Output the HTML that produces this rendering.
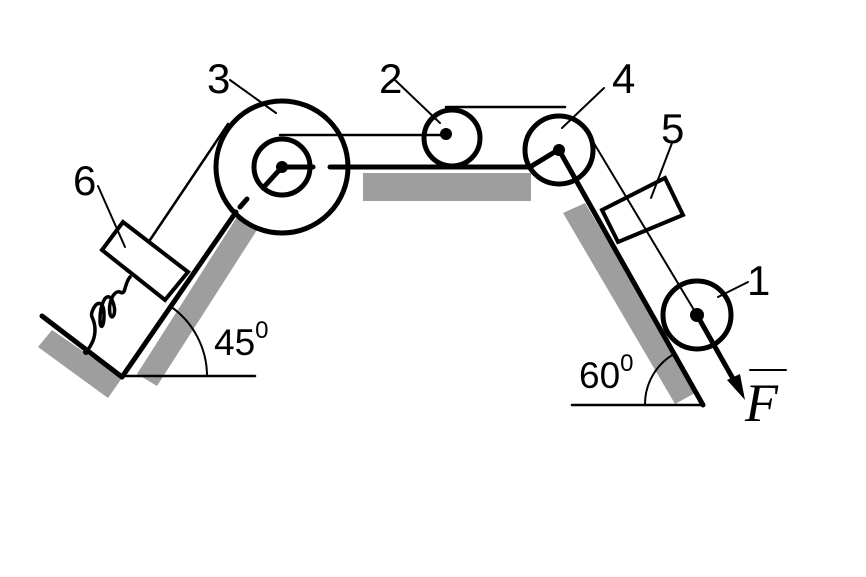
<!DOCTYPE html>
<html><head><style>body{margin:0;background:#fff}svg{display:block}text{font-family:"Liberation Sans",sans-serif;fill:#000}</style></head><body>
<svg width="866" height="577" viewBox="0 0 866 577" xmlns="http://www.w3.org/2000/svg">
<g fill="#9e9e9e">
<polygon points="38,347 108,398 122,378 52,330"/>
<polygon points="137,374 157,386 257,230 237,217"/>
<rect x="363" y="173" width="168" height="28"/>
<polygon points="563,213 585,203 697,392 675,404"/>
</g>
<g stroke="#000" fill="none" stroke-linecap="round">
<line x1="42" y1="316" x2="122" y2="377" stroke-width="5"/>
<line x1="122" y1="377" x2="236" y2="212" stroke-width="5"/>
<line x1="240" y1="207" x2="247" y2="199" stroke-width="5"/>
<line x1="122" y1="376" x2="255" y2="376" stroke-width="2.5"/>
<path d="M207,376 A85,85 0 0 0 170,306" stroke-width="2"/>
<path d="M86,352 C92,345 95,338 95,330 C95,318 90,318 92,312 C96,300 104,300 104,315 C104,328 100,330 100,320 C100,305 106,290 112,300 C118,312 112,322 110,314 C108,302 114,290 120,292 C126,296 124,284 130,277" stroke-width="3.5"/>
<polygon points="102,250 123,222 188,272 165,300" stroke-width="4" fill="#fff"/>
<line x1="150" y1="240" x2="228" y2="124" stroke-width="2.5"/>
<line x1="98" y1="186" x2="125" y2="247" stroke-width="2"/>
<circle cx="282" cy="167" r="66" stroke-width="5"/>
<circle cx="282" cy="167" r="28" stroke-width="5"/>
<line x1="282" y1="167" x2="263" y2="188" stroke-width="5"/>
<line x1="282" y1="167" x2="313" y2="167" stroke-width="5"/>
<line x1="330" y1="167" x2="530" y2="167" stroke-width="5"/>
<line x1="530" y1="167" x2="558" y2="150" stroke-width="5"/>
<line x1="280" y1="135" x2="446" y2="135" stroke-width="2.5"/>
<line x1="446" y1="107" x2="565" y2="107" stroke-width="2.5"/>
<circle cx="452" cy="138" r="28" stroke-width="5"/>
<circle cx="559" cy="150" r="34" stroke-width="5"/>
<line x1="559" y1="150" x2="703" y2="405" stroke-width="5"/>
<line x1="572" y1="405" x2="703" y2="405" stroke-width="2.5"/>
<path d="M645,405 A58,58 0 0 1 674,354" stroke-width="2"/>
<line x1="592" y1="140" x2="697" y2="315" stroke-width="2"/>
<polygon points="602,210 665,178 683,215 618,242" stroke-width="4"/>
<circle cx="697" cy="315" r="34" stroke-width="5"/>
<line x1="697" y1="315" x2="736" y2="384" stroke-width="5"/>
<line x1="672" y1="143" x2="651" y2="198" stroke-width="2"/>
<line x1="748" y1="282" x2="718" y2="297" stroke-width="2"/>
<line x1="230" y1="80" x2="276" y2="113" stroke-width="2"/>
<line x1="395" y1="80" x2="440" y2="123" stroke-width="2"/>
<line x1="604" y1="88" x2="562" y2="128" stroke-width="2"/>
<line x1="750" y1="370" x2="786" y2="370" stroke-width="2"/>
</g>
<polygon points="745,400 727,380 740,374" fill="#000"/>
<g fill="#000"><circle cx="282" cy="167" r="6"/><circle cx="446" cy="134" r="6"/><circle cx="559" cy="150" r="6"/><circle cx="697" cy="315" r="7"/><circle cx="86" cy="352" r="3"/></g>
<g font-size="42">
<text x="207" y="93">3</text><text x="379" y="93">2</text><text x="612" y="93">4</text>
<text x="661" y="143">5</text><text x="73" y="195">6</text><text x="747" y="295">1</text>
</g>
<text x="214" y="355" font-size="37">45<tspan dy="-17" font-size="24">0</tspan></text>
<text x="579" y="388" font-size="37">60<tspan dy="-17" font-size="24">0</tspan></text>
<text x="745" y="421" font-size="54" font-style="italic" style="font-family:'Liberation Serif',serif">F</text>
</svg>
</body></html>
